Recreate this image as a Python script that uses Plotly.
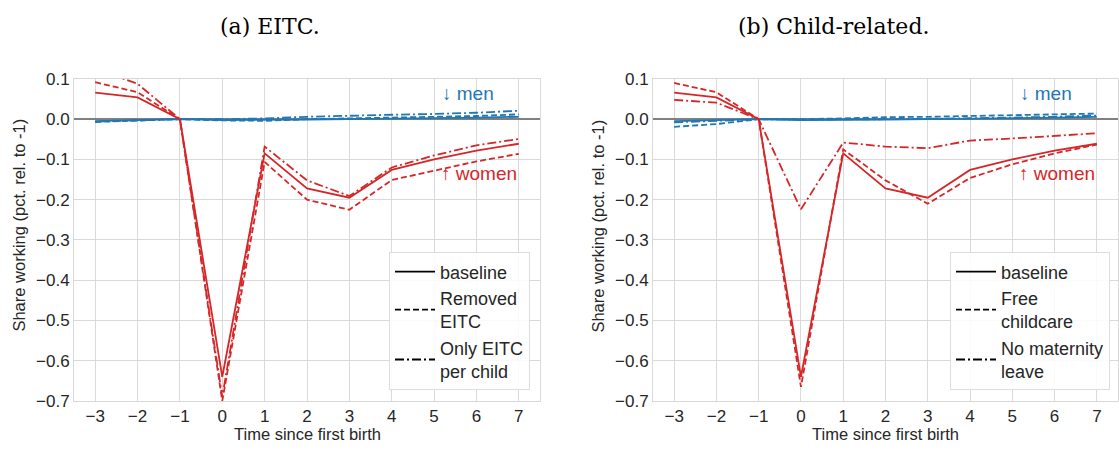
import plotly.graph_objects as go

# ---------------- data ----------------
t = [-3, -2, -1, 0, 1, 2, 3, 4, 5, 6, 7]

women_baseline = [0.066, 0.054, 0.0, -0.64, -0.085, -0.172, -0.195, -0.126, -0.100, -0.078, -0.061]
men_baseline = [-0.005, -0.003, 0.0, -0.002, -0.002, -0.001, 0.000, 0.001, 0.002, 0.004, 0.006]

# panel (a) EITC
women_removed_eitc = [0.092, 0.067, 0.0, -0.700, -0.106, -0.200, -0.225, -0.151, -0.128, -0.105, -0.086]
men_removed_eitc = [-0.007, -0.004, 0.0, -0.003, -0.004, 0.000, 0.002, 0.003, 0.005, 0.008, 0.012]
women_only_eitc_child = [0.125, 0.088, 0.0, -0.690, -0.068, -0.152, -0.191, -0.120, -0.090, -0.065, -0.049]
men_only_eitc_child = [-0.006, -0.003, 0.0, 0.000, 0.002, 0.006, 0.009, 0.011, 0.013, 0.016, 0.021]

# panel (b) Child-related
women_free_childcare = [0.090, 0.067, 0.0, -0.665, -0.075, -0.152, -0.210, -0.146, -0.112, -0.085, -0.063]
men_free_childcare = [-0.019, -0.012, 0.0, 0.000, 0.002, 0.005, 0.006, 0.008, 0.009, 0.011, 0.014]
women_no_maternity = [0.048, 0.041, 0.0, -0.224, -0.058, -0.068, -0.072, -0.053, -0.048, -0.041, -0.035]
men_no_maternity = [-0.008, -0.004, 0.0, -0.001, -0.001, 0.000, 0.001, 0.002, 0.004, 0.006, 0.009]

x_ticks = [-3, -2, -1, 0, 1, 2, 3, 4, 5, 6, 7]
y_ticks = [0.1, 0.0, -0.1, -0.2, -0.3, -0.4, -0.5, -0.6, -0.7]

legend_a = ["baseline", "Removed<br>EITC", "Only EITC<br>per child"]
legend_b = ["baseline", "Free<br>childcare", "No maternity<br>leave"]
titles = ["(a) EITC.", "(b) Child-related."]

# ---------------- style ----------------
RED = "#d62728"
BLUE = "#1f77b4"
DASH = "6px,3px"
DASHDOT = "9px,3px,2px,3px"
LW = 1.8
FONT = "Liberation Sans, Arial, sans-serif"
GRID = "#d9d9d9"
TXT = "#262626"

W, H = 1119, 455
fig = go.Figure()

def add(xa, ya, y, color, dash):
    fig.add_trace(go.Scatter(x=t, y=y, mode="lines", xaxis=xa, yaxis=ya,
                             line=dict(color=color, width=LW, dash=dash),
                             showlegend=False, hoverinfo="skip"))

# panel a
add("x", "y", men_removed_eitc, BLUE, DASH)
add("x", "y", men_only_eitc_child, BLUE, DASHDOT)
add("x", "y", men_baseline, BLUE, "solid")
add("x", "y", women_removed_eitc, RED, DASH)
add("x", "y", women_only_eitc_child, RED, DASHDOT)
add("x", "y", women_baseline, RED, "solid")
# panel b
add("x2", "y2", men_free_childcare, BLUE, DASH)
add("x2", "y2", men_no_maternity, BLUE, DASHDOT)
add("x2", "y2", men_baseline, BLUE, "solid")
add("x2", "y2", women_free_childcare, RED, DASH)
add("x2", "y2", women_no_maternity, RED, DASHDOT)
add("x2", "y2", women_baseline, RED, "solid")

# legend entries (black line samples)
for name, dash in zip(legend_a, ["solid", DASH, DASHDOT]):
    fig.add_trace(go.Scatter(x=[None], y=[None], mode="lines", name=name, xaxis="x", yaxis="y",
                             line=dict(color="black", width=LW, dash=dash), legend="legend"))
for name, dash in zip(legend_b, ["solid", DASH, DASHDOT]):
    fig.add_trace(go.Scatter(x=[None], y=[None], mode="lines", name=name, xaxis="x2", yaxis="y2",
                             line=dict(color="black", width=LW, dash=dash), legend="legend2"))

xdom_a = [74 / W, 540 / W]
xdom_b = [653 / W, 1118 / W]
ydom = [(H - 409) / H, (H - 73) / H]

axis_common = dict(showgrid=True, gridcolor=GRID, gridwidth=1, showline=True, linecolor=GRID,
                   linewidth=1, mirror=True, ticks="", tickfont=dict(size=17, color=TXT))
xcommon = dict(axis_common, range=[-3.5, 7.5], tickvals=x_ticks, zeroline=False)
ycommon = dict(axis_common, range=[-0.7, 0.1], tickvals=y_ticks, tickformat=".1f",
               zeroline=True, zerolinecolor="#808080", zerolinewidth=1.6)

legend_style = dict(bgcolor="rgba(255,255,255,0.85)", bordercolor="#dddddd", borderwidth=1,
                    font=dict(size=18, color=TXT, family=FONT), xanchor="right", yanchor="bottom",
                    tracegroupgap=0, itemwidth=40)

fig.update_layout(
    width=W, height=H, margin=dict(l=0, r=0, t=0, b=0),
    paper_bgcolor="white", plot_bgcolor="white",
    font=dict(family=FONT, size=16, color=TXT),
    xaxis=dict(xcommon, domain=xdom_a, anchor="y"),
    yaxis=dict(ycommon, domain=ydom, anchor="x"),
    xaxis2=dict(xcommon, domain=xdom_b, anchor="y2"),
    yaxis2=dict(ycommon, domain=ydom, anchor="x2"),
    legend=dict(legend_style, x=530 / W, y=(H - 398) / H),
    legend2=dict(legend_style, x=1110 / W, y=(H - 398) / H),
)

ann = []
# panel titles
for txt, xc in zip(titles, [270 / W, 833 / W]):
    ann.append(dict(text=txt, x=xc, y=1 - 18 / H, xref="paper", yref="paper", showarrow=False,
                    xanchor="center", yanchor="middle",
                    font=dict(family="DejaVu Serif, serif", size=22, color="black")))
# axis titles
for xl, xc in zip([19, 598], [(74 + 540) / 2, (653 + 1118) / 2]):
    ann.append(dict(text="Share working (pct. rel. to -1)", x=xl / W, y=(H - 226) / H, xref="paper",
                    yref="paper", showarrow=False, textangle=-90, xanchor="center", yanchor="middle",
                    font=dict(size=16.5, color=TXT)))
    ann.append(dict(text="Time since first birth", x=xc / W, y=1 - 444 / H, xref="paper", yref="paper",
                    showarrow=False, xanchor="center", yanchor="middle", font=dict(size=16.5, color=TXT)))
# men / women labels
for xa, ya in [("x", "y"), ("x2", "y2")]:
    ann.append(dict(text="↓ men", x=5.8, y=0.064, xref=xa, yref=ya, showarrow=False,
                    font=dict(size=19, color=BLUE)))
    ann.append(dict(text="↑ women", x=6.05, y=-0.136, xref=xa, yref=ya, showarrow=False,
                    font=dict(size=19, color=RED)))
fig.update_layout(annotations=ann)

post = ("document.documentElement.style.margin='0';document.body.style.margin='0';"
        "document.body.style.padding='0';document.documentElement.style.overflow='hidden';"
        "var gd=document.getElementById('{plot_id}');gd.style.position='fixed';"
        "gd.style.top='0px';gd.style.left='0px';")
fig.write_html("out.html", config={"displayModeBar": False}, post_script=post)
